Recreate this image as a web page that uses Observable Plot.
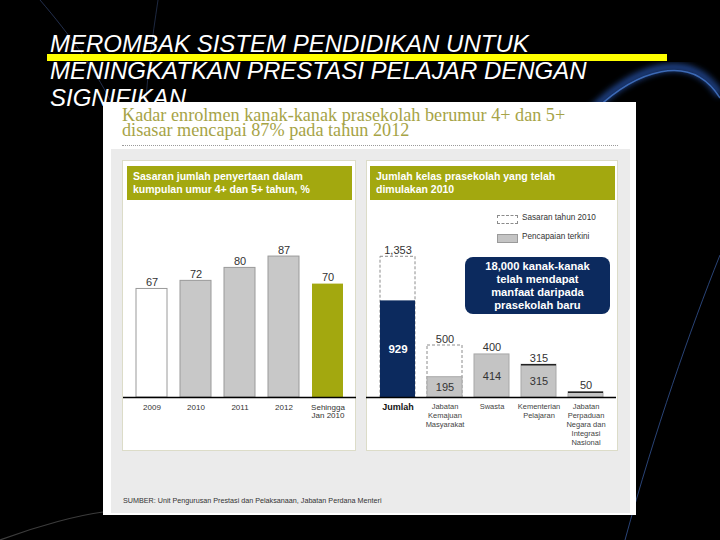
<!DOCTYPE html>
<html><head><meta charset="utf-8">
<script src="https://cdn.jsdelivr.net/npm/d3@7"></script>
<script src="https://cdn.jsdelivr.net/npm/@observablehq/plot@0.6"></script>
<style>
html,body{margin:0;padding:0;background:#000;}
#stage{position:relative;width:720px;height:540px;overflow:hidden;background:#000;font-family:"Liberation Sans",Arial,sans-serif;}
.abs{position:absolute;}
#deco{left:0;top:0;}
#title{left:50px;top:30px;color:#fff;font-style:italic;font-size:24px;line-height:27px;white-space:nowrap;}
#ybar{left:47px;top:54px;width:620px;height:7px;background:#ffff00;}
#panel{left:103px;top:102px;width:533px;height:413px;background:#fff;}
#ptitle{left:122px;top:108px;font-family:"Liberation Serif","Times New Roman",serif;font-size:18.2px;line-height:15px;color:#a6a346;white-space:nowrap;}
#dots{left:122px;top:145px;width:496px;border-top:1px dotted #9a9a9a;}
#gray{left:111px;top:149px;width:519px;height:364px;background:#ebebeb;}
.sub{background:#fff;border:1px solid #dcdcc8;box-sizing:border-box;}
.hdr{background:#a3a80f;color:#fff;font-weight:bold;font-size:10.5px;line-height:13px;padding:4px 6px;box-sizing:border-box;white-space:nowrap;}
.chart{position:absolute;}
#legend div{position:absolute;}
#callout{left:465px;top:257px;width:145px;height:57px;background:#0c2a5e;border-radius:8px;color:#fff;font-weight:bold;font-size:11.2px;line-height:13px;text-align:center;padding-top:3px;box-sizing:border-box;}
#source{left:123px;top:496px;font-size:7.2px;color:#333;white-space:nowrap;}
</style></head>
<body>
<div id="stage">
  <svg id="deco" class="abs" width="720" height="540">
    <defs><filter id="blur"><feGaussianBlur stdDeviation="3"/></filter></defs>
    <path d="M 590 112 C 630 70, 690 45, 720 95" fill="none" stroke="#2d62c8" stroke-width="7" opacity="0.75" filter="url(#blur)"/>
    <path d="M 595 110 C 635 72, 690 50, 720 98" fill="none" stroke="#4f86e0" stroke-width="1.5" opacity="0.7"/>
    <path d="M 720 255 C 690 330, 655 430, 625 540" fill="none" stroke="#3b5fa8" stroke-width="1" opacity="0.7"/>
    <path d="M 40 0 C 70 35, 95 70, 110 100" fill="none" stroke="#3a4f80" stroke-width="1" opacity="0.6"/>
    <path d="M 158 0 C 152 40, 148 70, 146 100" fill="none" stroke="#3a4f80" stroke-width="1" opacity="0.5"/>
    <path d="M 0 540 C 40 525, 80 515, 103 512" fill="none" stroke="#555" stroke-width="1.2" opacity="0.7"/>
  </svg>
  <div id="title" class="abs">MEROMBAK SISTEM PENDIDIKAN UNTUK<br>MENINGKATKAN PRESTASI PELAJAR DENGAN<br>SIGNIFIKAN</div>
  <div id="ybar" class="abs"></div>
  <div id="panel" class="abs"></div>
  <div id="ptitle" class="abs">Kadar enrolmen kanak-kanak prasekolah berumur 4+ dan 5+<br>disasar mencapai 87% pada tahun 2012</div>
  <div id="dots" class="abs"></div>
  <div id="gray" class="abs"></div>
  <div class="abs sub" style="left:122px;top:160px;width:234px;height:291px;"></div>
  <div class="abs sub" style="left:366px;top:160px;width:252px;height:291px;"></div>
  <div class="abs hdr" style="left:127px;top:166px;width:225px;height:34px;">Sasaran jumlah penyertaan dalam<br>kumpulan umur 4+ dan 5+ tahun, %</div>
  <div class="abs hdr" style="left:370px;top:166px;width:245px;height:34px;">Jumlah kelas prasekolah yang telah<br>dimulakan 2010</div>
  <div id="leftChart" class="chart" style="left:122px;top:200px;"></div>
  <div id="rightChart" class="chart" style="left:366px;top:200px;"></div>
  <div id="legend">
    <div style="left:497px;top:215px;width:21px;height:9px;border:1px dashed #8c8c8c;box-sizing:border-box;background:#fff;"></div>
    <div style="left:522px;top:213px;font-size:8.2px;color:#333;white-space:nowrap;">Sasaran tahun 2010</div>
    <div style="left:497px;top:234px;width:21px;height:9px;border:1px solid #9a9a9a;box-sizing:border-box;background:#c4c4c4;"></div>
    <div style="left:522px;top:232px;font-size:8.2px;color:#333;white-space:nowrap;">Pencapaian terkini</div>
  </div>
  <div id="callout" class="abs">18,000 kanak-kanak<br>telah mendapat<br>manfaat daripada<br>prasekolah baru</div>
  <div id="source" class="abs">SUMBER: Unit Pengurusan Prestasi dan Pelaksanaan, Jabatan Perdana Menteri</div>
</div>
<script>
// ---- Left chart data ----
const years = ["2009", "2010", "2011", "2012", "Sehingga\nJan 2010"];
const enrolPct = [67, 72, 80, 87, 70];
const enrolKind = ["Sebenar", "Sasaran", "Sasaran", "Sasaran", "Pencapaian"];

// ---- Right chart data ----
const units = ["Jumlah", "Jabatan\nKemajuan\nMasyarakat", "Swasta", "Kementerian\nPelajaran", "Jabatan\nPerpaduan\nNegara dan\nIntegrasi\nNasional"];
const target2010 = [1353, 500, 400, 315, 50];
const achieved = [929, 195, 414, 315, 50];

const OLIVE = "#a3a80f", NAVY = "#0c2a5e", GRAYBAR = "#c4c4c4";
const font = "Liberation Sans, Arial, sans-serif";

const leftData = years.map((c, i) => ({cat: c, v: enrolPct[i], kind: enrolKind[i]}));
const left = Plot.plot({
  width: 234, height: 251,
  marginLeft: 1, marginRight: 0, marginTop: 35, marginBottom: 54,
  style: {background: "transparent", fontFamily: font, overflow: "visible"},
  x: {domain: years, padding: 0.295, axis: null},
  y: {domain: [0, 100], axis: null},
  color: {domain: ["Sebenar", "Sasaran", "Pencapaian"], range: ["#ffffff", "#c8c8c8", OLIVE]},
  marks: [
    Plot.barY(leftData, {filter: d => d.kind !== "Pencapaian", x: "cat", y: "v", fill: "kind", stroke: "#9a9a9a", strokeWidth: 1}),
    Plot.barY(leftData, {filter: d => d.kind === "Pencapaian", x: "cat", y: "v", fill: "kind"}),
    Plot.ruleY([0], {stroke: "#000", strokeWidth: 1.5}),
    Plot.text(leftData, {x: "cat", y: "v", text: d => String(d.v), lineAnchor: "bottom", dy: -3, fontSize: 11, fill: "#333"}),
    Plot.axisX({tickSize: 0, tickPadding: 7, fontSize: 8, fill: "#333", label: null})
  ]
});
document.getElementById("leftChart").appendChild(left);

const rightData = units.map((u, i) => ({cat: u, t: target2010[i], a: achieved[i], total: i === 0}));
const right = Plot.plot({
  width: 252, height: 251,
  marginLeft: 0, marginRight: 2, marginTop: 41, marginBottom: 54,
  style: {background: "transparent", fontFamily: font, overflow: "visible"},
  x: {domain: units, padding: 0.26, axis: null},
  y: {domain: [0, 1500], axis: null},
  marks: [
    Plot.barY(rightData, {filter: d => d.t > d.a, x: "cat", y: "t", fill: "white", stroke: "#8c8c8c", strokeDasharray: "3,2", strokeWidth: 1}),
    Plot.barY(rightData, {filter: d => d.total, x: "cat", y: "a", fill: NAVY}),
    Plot.barY(rightData, {filter: d => !d.total, x: "cat", y: "a", fill: GRAYBAR, stroke: "#a8a8a8", strokeWidth: 1}),
    Plot.tickY(rightData, {filter: d => d.t === d.a, x: "cat", y: "t", stroke: "#222", strokeWidth: 1.5}),
    Plot.ruleY([0], {stroke: "#000", strokeWidth: 1.5}),
    Plot.text(rightData, {x: "cat", y: d => Math.max(d.t, d.a), text: d => d3.format(",")(d.t), lineAnchor: "bottom", dy: -3, fontSize: 11, fill: "#333"}),
    Plot.text(rightData, {filter: d => d.total, x: "cat", y: d => d.a / 2, text: d => String(d.a), fontSize: 11.5, fontWeight: "bold", fill: "#fff"}),
    Plot.text(rightData, {filter: d => !d.total && d.a > 100, x: "cat", y: d => d.a / 2, text: d => String(d.a), fontSize: 11, fill: "#333"}),
    Plot.axisX({ticks: [units[0]], tickSize: 0, tickPadding: 6, fontSize: 9, fontWeight: "bold", fill: "#111", label: null}),
    Plot.axisX({ticks: units.slice(1), tickSize: 0, tickPadding: 5, fontSize: 7.5, fill: "#444", label: null, lineHeight: 1.2})
  ]
});
document.getElementById("rightChart").appendChild(right);
</script>
</body></html>
